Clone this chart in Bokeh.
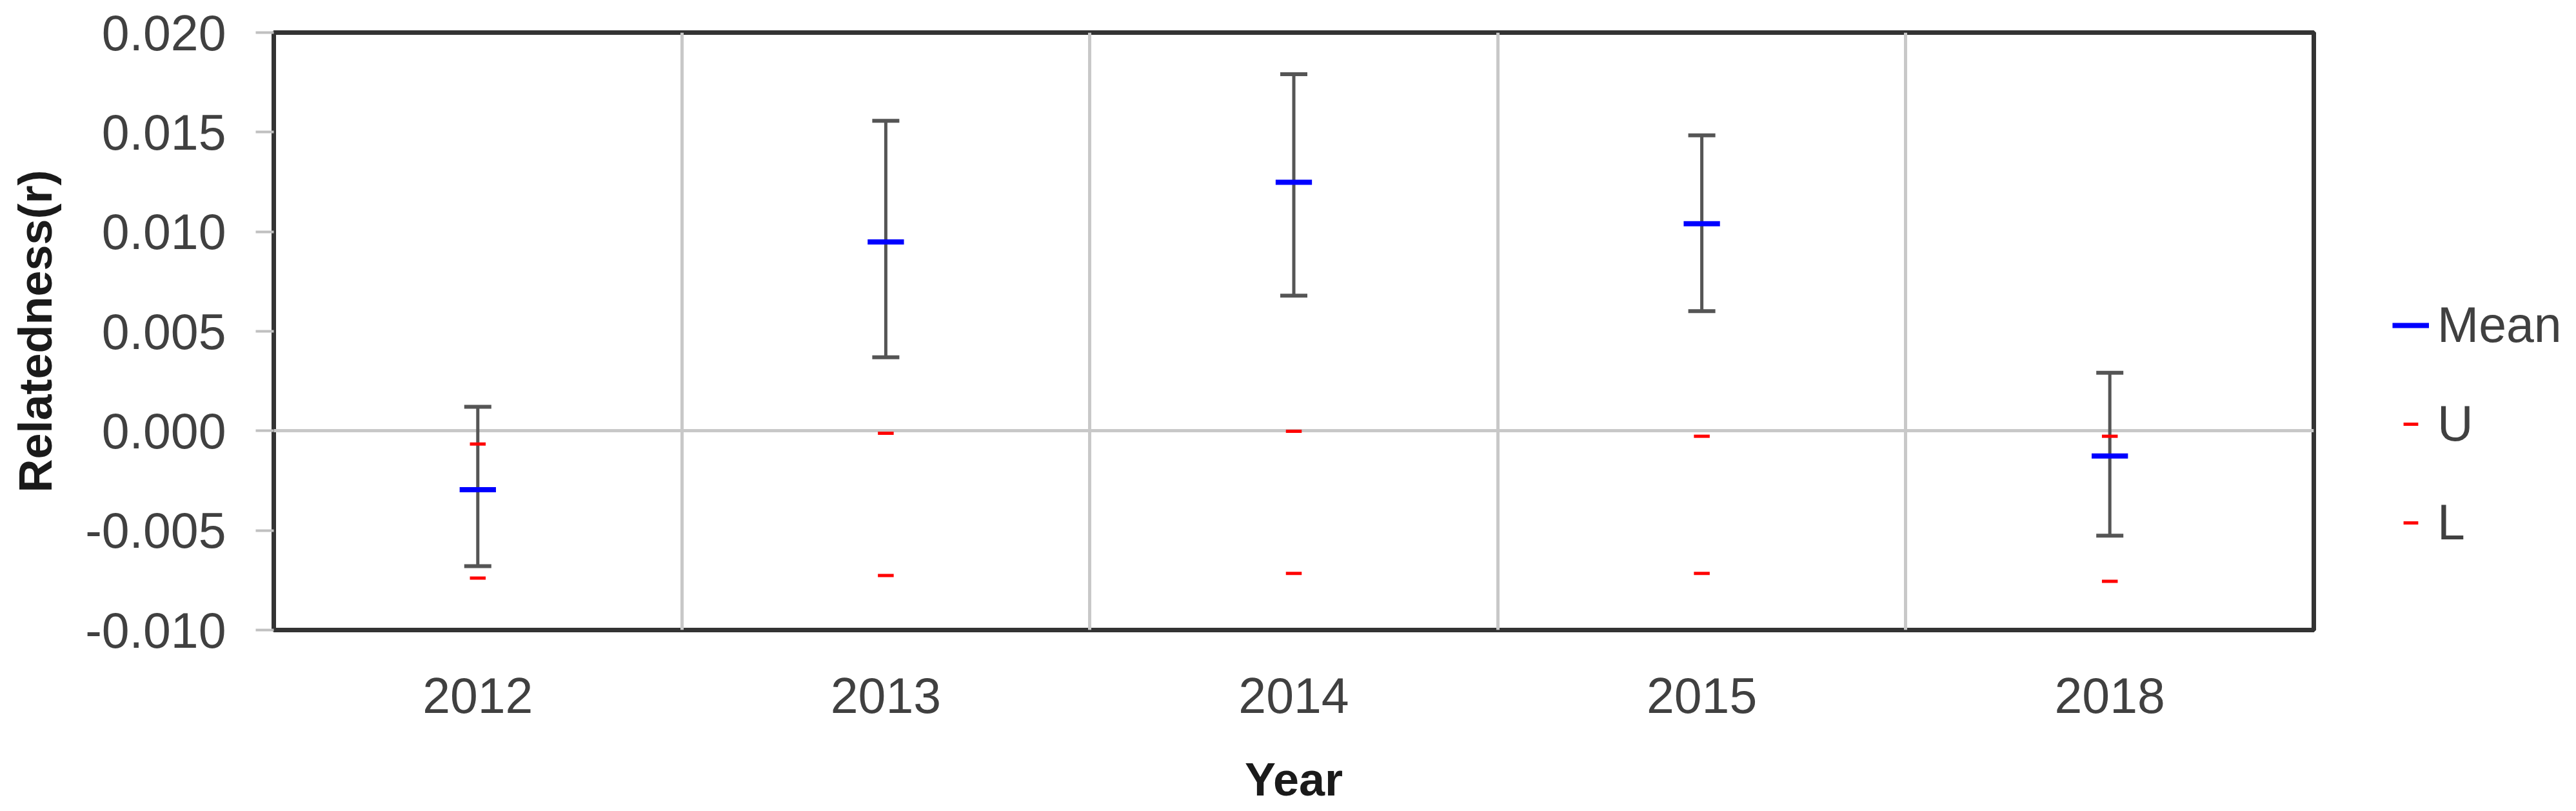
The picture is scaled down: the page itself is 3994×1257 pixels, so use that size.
from bokeh.plotting import figure
from bokeh.models import (Range1d, FixedTicker, NumeralTickFormatter, ColumnDataSource,
                          Whisker, TeeHead, Legend, LegendItem)
from bokeh.embed import file_html
from bokeh.resources import INLINE

# ---- data ----
years = ["2012", "2013", "2014", "2015", "2018"]
mean_vals = [-0.00295, 0.00949, 0.01248, 0.01040, -0.00126]
err_upper = [0.00121, 0.01557, 0.01791, 0.01484, 0.00292]
err_lower = [-0.00679, 0.00370, 0.00679, 0.00601, -0.00526]
u_vals = [-0.00066, -0.00012, -0.00002, -0.00027, -0.00027]
l_vals = [-0.00739, -0.00726, -0.00716, -0.00716, -0.00755]
y_ticks = [-0.010, -0.005, 0.000, 0.005, 0.010, 0.015, 0.020]

# ---- styles ----
FONT = "Liberation Sans"
TICK_COLOR = "#404040"
MEAN_HALF = 0.0445   # half width of mean dash in category units

xs = list(range(len(years)))
src = ColumnDataSource(dict(
    x=xs,
    x0m=[x - MEAN_HALF for x in xs], x1m=[x + MEAN_HALF for x in xs],
    mean=mean_vals, upper=err_upper, lower=err_lower, u=u_vals, l=l_vals,
))

p = figure(frame_width=3163, frame_height=926, output_backend="svg", toolbar_location=None,
           x_range=Range1d(-0.5, len(years) - 0.5),
           y_range=Range1d(y_ticks[0], y_ticks[-1]),
           min_border_left=424, min_border_right=0,
           min_border_top=50, min_border_bottom=273)
p.background_fill_color = "white"
p.border_fill_color = "white"
p.outline_line_color = "#333333"
p.outline_line_width = 7

# grids
p.xgrid.ticker = FixedTicker(ticks=[i + 0.5 for i in xs[:-1]])
p.xgrid.grid_line_color = "#c8c8c8"
p.xgrid.grid_line_width = 5
p.ygrid.ticker = FixedTicker(ticks=[0.0])
p.ygrid.grid_line_color = "#c8c8c8"
p.ygrid.grid_line_width = 5

# x axis
p.xaxis.ticker = FixedTicker(ticks=xs)
p.xaxis.major_label_overrides = {x: y for x, y in zip(xs, years)}
p.xaxis.major_tick_line_color = None
p.xaxis.minor_tick_line_color = None
p.xaxis.axis_line_color = None
p.xaxis.major_label_standoff = 68
p.xaxis.major_label_text_font = FONT
p.xaxis.major_label_text_font_size = "77px"
p.xaxis.major_label_text_color = TICK_COLOR
p.xaxis.axis_label = "Year"
p.xaxis.axis_label_text_font = FONT
p.xaxis.axis_label_text_font_style = "bold"
p.xaxis.axis_label_text_font_size = "72px"
p.xaxis.axis_label_text_color = "#1a1a1a"
p.xaxis.axis_label_standoff = 60

# y axis
p.yaxis.ticker = FixedTicker(ticks=y_ticks)
p.yaxis.formatter = NumeralTickFormatter(format="0.000")
p.yaxis.major_tick_out = 28
p.yaxis.major_tick_in = 0
p.yaxis.major_tick_line_color = "#c0c0c0"
p.yaxis.major_tick_line_width = 4
p.yaxis.minor_tick_line_color = None
p.yaxis.axis_line_color = None
p.yaxis.major_label_standoff = 46
p.yaxis.major_label_text_font = FONT
p.yaxis.major_label_text_font_size = "77px"
p.yaxis.major_label_text_color = TICK_COLOR
p.yaxis.axis_label = "Relatedness(r)"
p.yaxis.axis_label_text_font = FONT
p.yaxis.axis_label_text_font_style = "bold"
p.yaxis.axis_label_text_font_size = "72px"
p.yaxis.axis_label_text_color = "#1a1a1a"
p.yaxis.axis_label_standoff = 34

# error bars
whisker = Whisker(source=src, base="x", upper="upper", lower="lower",
                  line_color="#555555", line_width=5, level="underlay",
                  upper_head=TeeHead(size=42, line_color="#555555", line_width=6),
                  lower_head=TeeHead(size=42, line_color="#555555", line_width=6))
p.add_layout(whisker)

# marks
r_u = p.scatter(x="x", y="u", source=src, marker="dash", size=24.5,
                line_color="#ff0000", line_width=5)
r_l = p.scatter(x="x", y="l", source=src, marker="dash", size=24.5,
                line_color="#ff0000", line_width=5)
r_mean = p.segment(x0="x0m", y0="mean", x1="x1m", y1="mean", source=src,
                   line_color="#0000ff", line_width=8)

legend = Legend(items=[LegendItem(label="Mean", renderers=[r_mean]),
                       LegendItem(label="U", renderers=[r_u]),
                       LegendItem(label="L", renderers=[r_l])],
                location=(122, 122), padding=0, margin=0, spacing=64,
                border_line_color=None, background_fill_alpha=0,
                label_text_font=FONT, label_text_font_size="77px",
                label_text_color=TICK_COLOR, glyph_width=57, glyph_height=88,
                label_height=88, label_standoff=13)
p.add_layout(legend, "right")

open("out.html", "w").write(file_html(p, INLINE))
